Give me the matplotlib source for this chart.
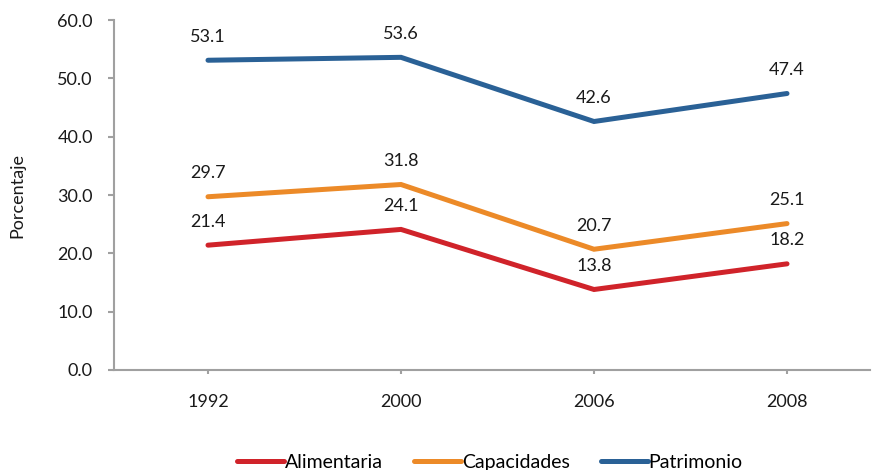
import matplotlib
matplotlib.use("Agg")
import matplotlib.pyplot as plt

years = ["1992", "2000", "2006", "2008"]
alimentaria = [21.4, 24.1, 13.8, 18.2]
capacidades = [29.7, 31.8, 20.7, 25.1]
patrimonio = [53.1, 53.6, 42.6, 47.4]
series_names = ["Alimentaria", "Capacidades", "Patrimonio"]
colors = ["#D0232A", "#EC8A28", "#2A6196"]
yticks = [0, 10, 20, 30, 40, 50, 60]

plt.rcParams['font.family'] = ['Lato', 'DejaVu Sans']
fig = plt.figure(figsize=(8.72, 4.70), dpi=100)
ax = fig.add_axes([114/872, 100/470, (870-114)/872, 350/470])

fs = 13
x = list(range(len(years)))
for vals, name, c in zip([alimentaria, capacidades, patrimonio], series_names, colors):
    ax.plot(x, vals, color=c, lw=3.6, label=name, solid_capstyle='round', solid_joinstyle='miter')
    for xi, v in zip(x, vals):
        ax.annotate(f"{v:.1f}", (xi, v), xytext=(0, 17), textcoords='offset points',
                    ha='center', va='center', fontsize=fs, color='#1a1a1a')

ax.set_xlim(-0.487, 3.43)
ax.set_ylim(0, 60)
ax.set_xticks(x)
ax.set_xticklabels(years)
ax.set_yticks(yticks)
ax.set_yticklabels([f"{t:.1f}" for t in yticks])
for s in ['top', 'right']:
    ax.spines[s].set_visible(False)
for s in ['left', 'bottom']:
    ax.spines[s].set_color('#A0A0A0')
    ax.spines[s].set_linewidth(1.5)
ax.tick_params(axis='y', length=4.3, width=1.5, color='#A0A0A0', pad=11, labelsize=fs, labelcolor='#1a1a1a')
ax.tick_params(axis='x', length=3, width=1.5, color='#A0A0A0', pad=14, labelsize=fs, labelcolor='#1a1a1a')
ax.set_ylabel("Porcentaje", fontsize=fs, color='#1a1a1a')
ax.yaxis.set_label_coords(-0.117, 0.5)

fig.legend(loc='center', bbox_to_anchor=(0.562, 0.017), ncol=3, frameon=False, fontsize=14,
           handlelength=2.4, handletextpad=0.05, columnspacing=1.6)

fig.savefig("out.png", dpi=100)
